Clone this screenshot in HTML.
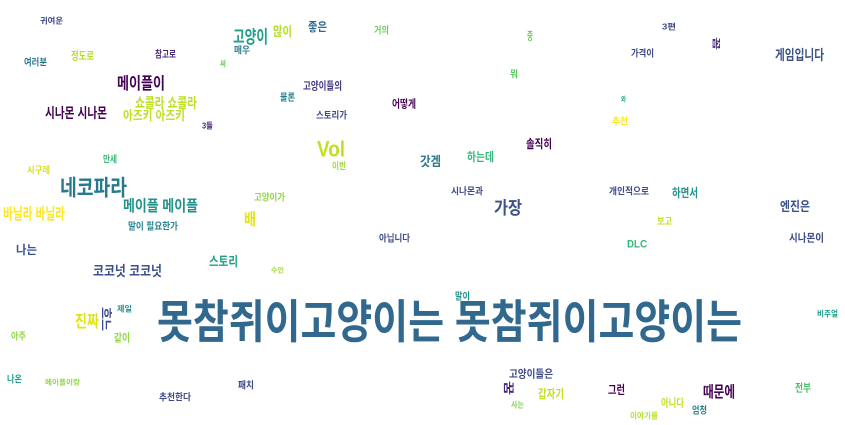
<!DOCTYPE html>
<html><head><meta charset="utf-8"><style>
html,body{margin:0;padding:0;background:#fff;width:845px;height:425px;overflow:hidden}
svg text{font-family:"Liberation Sans","Noto Sans CJK KR",sans-serif;font-weight:bold}
</style></head><body>
<svg id="wc" width="845" height="425" viewBox="0 0 845 425" xmlns="http://www.w3.org/2000/svg">
<rect width="845" height="425" fill="#fff"/>
</svg>
<script>
const words = ["귀여운","고양이","많이","좋은","거의","정도로","참고로","여러분","매우","싸","메이플이","고양이들의","쇼콜라 쇼콜라","물론","어떻게","시나몬 시나몬","아즈키 아즈키","스토리가","3들","Vol","이번","만세","시구레","네코파라","메이플 메이플","고양이가","바닐라 바닐라","배","중","3편","꼼","가격이","게임입니다","뭐","와","추천","솔직히","갓겜","하는데","시나몬과","가장","개인적으로","하면서","엔진은","보고","말이 필요한가","아닙니다","나는","스토리","수인","코코넛 코코넛","제일","흐느","진짜","아주","같이","못참쥐이고양이는 못참쥐이고양이는","나온","메이플이랑","패치","추천한다","말이","시나몬이","DLC","비주얼","고양이들은","꿈","갑자기","그런","때문에","전부","사는","아니다","엄청","이야기를"];
const boxes = [[40,17,63,24],[233,29,268,44],[273,26,292,37],[308,22,327,32],[374,26,389,34],[71,51,94,60],[155,50,176,58],[24,58,47,66],[234,46,250,54],[220,60,226,67],[117,76,165,90],[303,81,342,90],[135,97,197,109],[280,93,295,101],[392,99,416,108],[45,107,107,119],[123,110,185,121],[316,111,347,119],[202,122,213,129],[317,139,345,158],[332,162,346,170],[103,155,117,163],[27,166,50,174],[60,178,127,197],[123,199,198,212],[254,193,285,201],[3,207,65,220],[244,212,256,226],[527,31,533,40],[662,23,676,30],[713,37,720,50],[631,49,654,57],[775,49,824,61],[510,70,518,78],[621,96,626,102],[612,117,628,125],[526,139,552,149],[420,156,441,167],[467,152,494,162],[451,187,483,195],[494,200,522,215],[609,187,649,195],[672,188,698,198],[780,201,810,212],[657,217,672,225],[128,222,178,230],[379,234,410,242],[16,245,37,255],[209,256,238,267],[271,267,284,273],[93,265,162,277],[117,305,132,312],[101,307,111,331],[75,314,99,328],[11,332,26,340],[114,333,130,342],[157,302,742,341],[7,375,22,383],[45,379,80,385],[238,381,254,389],[159,393,191,401],[455,292,470,300],[789,233,824,242],[627,239,647,248],[817,310,838,317],[509,369,553,378],[504,381,513,395],[538,389,564,399],[608,385,625,395],[703,385,735,398],[795,383,811,392],[511,401,524,408],[661,398,684,407],[692,406,707,414],[630,412,658,419]];
const colors = ["#3e4989","#1f9e89","#b5de2b","#31688e","#6ece58","#b5de2b","#482878","#2a788e","#26828e","#6ece58","#440154","#443983","#bddf26","#26828e","#440154","#440154","#bddf26","#3e4989","#482878","#c2df23","#a0da39","#35b779","#d8e219","#2a788e","#21918c","#90d743","#fde725","#e2e418","#6ece58","#3e4989","#482878","#3e4989","#3b528b","#5ec962","#1f9e89","#fde725","#440154","#2a788e","#35b779","#3e4989","#3b528b","#3e4989","#21918c","#3b528b","#c2df23","#26828e","#3e4989","#3b528b","#1fa187","#a0da39","#3b528b","#21918c","#3e4989","#dde318","#90d743","#90d743","#31688e","#1f9e89","#90d743","#3e4989","#3e4989","#21918c","#3e4989","#35b779","#1f9e89","#3e4989","#482878","#c2df23","#440154","#440154","#4ac16d","#7ad151","#c2df23","#26828e","#b5de2b"];
const vertical = ["꼼","흐느","꿈"];
const svg = document.getElementById('wc');
const NS = "http://www.w3.org/2000/svg";
words.forEach((w,i)=>{
  const [x0,y0,x1,y1] = boxes[i];
  const t = document.createElementNS(NS,'text');
  t.textContent = w;
  t.setAttribute('fill', colors[i]);
  if (vertical.includes(w)) {
    const h = x1-x0, len = y1-y0, fs = h/0.85;
    const cx=(x0+x1)/2, cy=(y0+y1)/2;
    t.setAttribute('font-size', fs);
    t.setAttribute('x', cx - len/2);
    t.setAttribute('y', cy + h/2 - 0.07*fs);
    t.setAttribute('textLength', len);
    t.setAttribute('lengthAdjust','spacingAndGlyphs');
    t.setAttribute('transform', `rotate(90 ${cx} ${cy})`);
  } else {
    const h = y1-y0, fs = h/0.85;
    t.setAttribute('font-size', fs);
    t.setAttribute('x', x0);
    t.setAttribute('y', y1 - 0.07*fs);
    t.setAttribute('textLength', x1-x0);
    t.setAttribute('lengthAdjust','spacingAndGlyphs');
  }
  
  
  svg.appendChild(t);
});
</script>
</body></html>
